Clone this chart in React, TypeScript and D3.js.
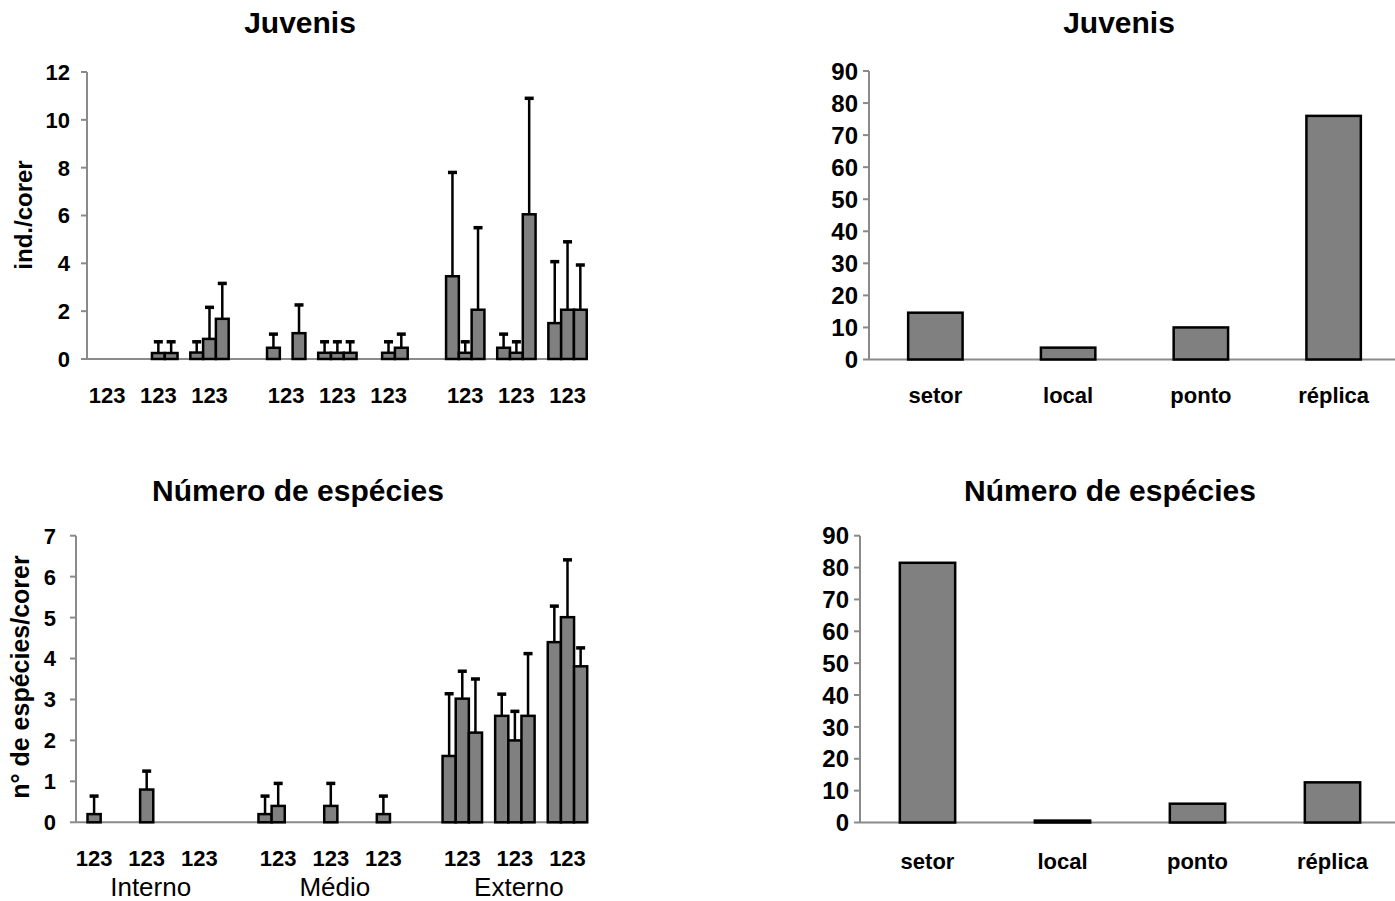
import React from "react";
import * as d3 from "d3";

// Category labels (three replicates per point) and sectors
const groupLabels = ["123", "123", "123", "123", "123", "123", "123", "123", "123"];
const groupPos = [0, 1, 2, 3.5, 4.5, 5.5, 7, 8, 9];
const sectors = ["Interno", "Médio", "Externo"];
const sectorGroups = [[0, 1, 2], [3, 4, 5], [6, 7, 8]];

// Juvenis: mean ind./corer per replicate, and standard deviation
const juvMean = [
  [0, 0, 0],
  [0, 0.25, 0.25],
  [0.27, 0.84, 1.68],
  [0.47, 0, 1.08],
  [0.26, 0.26, 0.26],
  [0, 0.26, 0.47],
  [3.46, 0.26, 2.06],
  [0.47, 0.26, 6.05],
  [1.5, 2.06, 2.06],
];
const juvSD = [
  [0, 0, 0],
  [0, 0.47, 0.47],
  [0.45, 1.32, 1.48],
  [0.57, 0, 1.18],
  [0.46, 0.46, 0.46],
  [0, 0.46, 0.57],
  [4.34, 0.46, 3.43],
  [0.57, 0.46, 4.85],
  [2.57, 2.84, 1.87],
];

// Número de espécies: mean species/corer per replicate, and standard deviation
const spMean = [
  [0, 0.2, 0],
  [0, 0.8, 0],
  [0, 0, 0],
  [0.2, 0.4, 0],
  [0, 0.4, 0],
  [0, 0.2, 0],
  [1.62, 3.02, 2.19],
  [2.6, 2.0, 2.6],
  [4.4, 5.01, 3.81],
];
const spSD = [
  [0, 0.44, 0],
  [0, 0.45, 0],
  [0, 0, 0],
  [0.44, 0.55, 0],
  [0, 0.55, 0],
  [0, 0.44, 0],
  [1.52, 0.67, 1.31],
  [0.53, 0.71, 1.52],
  [0.88, 1.4, 0.45],
];

// Variance components (%)
const components = ["setor", "local", "ponto", "réplica"];
const juvVar = [14.6, 3.7, 10.0, 76.0];
const spVar = [81.5, 0.6, 5.9, 12.6];

const juvTicks = [0, 2, 4, 6, 8, 10, 12];
const spTicks = [0, 1, 2, 3, 4, 5, 6, 7];
const varTicks = [0, 10, 20, 30, 40, 50, 60, 70, 80, 90];

const FONT = "'Liberation Sans', Arial, Helvetica, sans-serif";
const AXIS = "#8a8a8a";
const FILL = "#808080";

type LeftProps = {
  title: string;
  titleX: number;
  titleY: number;
  yTitle: string;
  yTitleX: number;
  yTitleY: number;
  yTitleSize: number;
  means: number[][];
  sds: number[][];
  ticks: number[];
  yRange: [number, number];
  xDomain: [number, number];
  xRange: [number, number];
  tickGap: number;
  labelY: number;
  showSectors: boolean;
};

function LeftPanel(p: LeftProps) {
  const yMax = p.ticks[p.ticks.length - 1];
  const y = d3.scaleLinear().domain([0, yMax]).range(p.yRange);
  const x = d3.scaleLinear().domain(p.xDomain).range(p.xRange);
  const bw = x(0.25) - x(0);
  const axisX = p.xRange[0];
  return (
    <g>
      <text x={p.titleX} y={p.titleY} textAnchor="middle"
        fontFamily={FONT} fontWeight="bold" fontSize={30}>{p.title}</text>
      <text transform={`translate(${p.yTitleX},${p.yTitleY}) rotate(-90)`} textAnchor="middle"
        fontFamily={FONT} fontWeight="bold" fontSize={p.yTitleSize}>{p.yTitle}</text>
      {/* axes */}
      <line x1={axisX} x2={axisX} y1={y(yMax)} y2={y(0)} stroke={AXIS} strokeWidth={2} />
      <line x1={axisX} x2={p.xRange[1]} y1={y(0)} y2={y(0)} stroke={AXIS} strokeWidth={2} />
      {p.ticks.map((t) => (
        <g key={t}>
          <line x1={axisX - 6} x2={axisX} y1={y(t)} y2={y(t)} stroke={AXIS} strokeWidth={2} />
          <text x={axisX - p.tickGap} y={y(t)} dy="0.36em" textAnchor="end"
            fontFamily={FONT} fontWeight="bold" fontSize={22}>{t}</text>
        </g>
      ))}
      {/* bars with error bars */}
      {p.means.map((grp, g) =>
        grp.map((v, i) => {
          if (v <= 0) return null;
          const x0 = x(groupPos[g] - 0.375 + i * 0.25);
          const cx = x0 + bw / 2;
          const sd = p.sds[g][i];
          return (
            <g key={`${g}-${i}`}>
              <rect x={x0} y={y(v)} width={bw} height={y(0) - y(v)}
                fill={FILL} stroke="#000" strokeWidth={2.5} />
              {sd > 0 && (
                <g>
                  <line x1={cx} x2={cx} y1={y(v)} y2={y(v + sd)} stroke="#000" strokeWidth={2.5} />
                  <line x1={cx - 4.5} x2={cx + 4.5} y1={y(v + sd)} y2={y(v + sd)} stroke="#000" strokeWidth={3.5} />
                </g>
              )}
            </g>
          );
        })
      )}
      {groupLabels.map((l, g) => (
        <text key={g} x={x(groupPos[g])} y={p.labelY} textAnchor="middle"
          fontFamily={FONT} fontWeight="bold" fontSize={22}>{l}</text>
      ))}
      {p.showSectors && sectors.map((s, k) => {
        const gs = sectorGroups[k];
        const cx = (x(groupPos[gs[0]]) + x(groupPos[gs[2]])) / 2 + 4;
        return (
          <text key={s} x={cx} y={896} textAnchor="middle" fontFamily={FONT} fontSize={26}>{s}</text>
        );
      })}
    </g>
  );
}

type RightProps = {
  title: string;
  titleX: number;
  titleY: number;
  values: number[];
  yRange: [number, number];
  xRange: [number, number];
  barFrac: number;
  labelY: number;
};

function RightPanel(p: RightProps) {
  const y = d3.scaleLinear().domain([0, 90]).range(p.yRange);
  const x = d3.scaleBand<string>().domain(components).range(p.xRange).padding(0);
  const bw = x.bandwidth() * p.barFrac;
  const axisX = p.xRange[0];
  return (
    <g>
      <text x={p.titleX} y={p.titleY} textAnchor="middle" fontFamily={FONT} fontWeight="bold" fontSize={30}>{p.title}</text>
      <line x1={axisX} x2={axisX} y1={y(90)} y2={y(0)} stroke={AXIS} strokeWidth={2} />
      <line x1={axisX} x2={p.xRange[1]} y1={y(0)} y2={y(0)} stroke={AXIS} strokeWidth={2} />
      {varTicks.map((t) => (
        <g key={t}>
          <line x1={axisX - 6} x2={axisX} y1={y(t)} y2={y(t)} stroke={AXIS} strokeWidth={2} />
          <text x={axisX - 11} y={y(t)} dy="0.36em" textAnchor="end"
            fontFamily={FONT} fontWeight="bold" fontSize={24}>{t}</text>
        </g>
      ))}
      {components.map((c, i) => {
        const cx = (x(c) as number) + x.bandwidth() / 2;
        const v = p.values[i];
        return (
          <g key={c}>
            <rect x={cx - bw / 2} y={y(v)} width={bw} height={y(0) - y(v)}
              fill={FILL} stroke="#000" strokeWidth={2.5} />
            <text x={cx} y={p.labelY} textAnchor="middle" fontFamily={FONT} fontWeight="bold" fontSize={22}>{c}</text>
          </g>
        );
      })}
    </g>
  );
}

export default function App() {
  return (
    <svg width={1395} height={901} style={{ position: "absolute", left: 0, top: 0, background: "#fff" }}>
      <LeftPanel title="Juvenis" titleX={300} titleY={33} yTitle="ind./corer" yTitleX={32} yTitleY={215} yTitleSize={24}
        means={juvMean} sds={juvSD} ticks={juvTicks} yRange={[359, 72]}
        xDomain={[-0.395, 9.4]} xRange={[87, 588]} tickGap={17} labelY={403} showSectors={false} />
      <LeftPanel title="Número de espécies" titleX={298} titleY={501} yTitle="n° de espécies/corer" yTitleX={29} yTitleY={677} yTitleSize={25}
        means={spMean} sds={spSD} ticks={spTicks} yRange={[822.3, 535.7]}
        xDomain={[-0.344, 9.39]} xRange={[76, 588]} tickGap={20} labelY={866} showSectors={true} />
      <RightPanel title="Juvenis" titleX={1119} titleY={33} values={juvVar} yRange={[359.5, 71]}
        xRange={[869, 1400]} barFrac={0.41} labelY={403} />
      <RightPanel title="Número de espécies" titleX={1110} titleY={501} values={spVar} yRange={[822.5, 535.7]}
        xRange={[860, 1400]} barFrac={0.41} labelY={869} />
    </svg>
  );
}
